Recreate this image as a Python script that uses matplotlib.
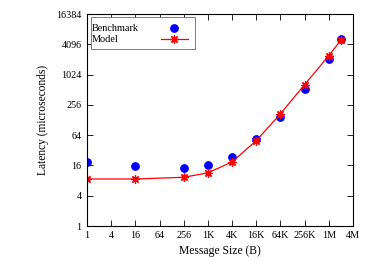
import numpy as np
import matplotlib
matplotlib.use("Agg")
import matplotlib.pyplot as plt
from matplotlib.patches import Rectangle

# message sizes in bytes
sizes = [1, 16, 256, 1024, 4096, 16384, 65536, 262144, 1048576, 2097152]
benchmark = [18.3, 15.6, 14.3, 16.1, 23.3, 52.8, 149, 523, 2120, 5210]
model = [8.6, 8.6, 9.3, 11.4, 18.8, 49.8, 170, 648, 2430, 4980]

xticks = [1, 4, 16, 64, 256, 1024, 4096, 16384, 65536, 262144, 1048576, 4194304]
xlabels = ["1", "4", "16", "64", "256", "1K", "4K", "16K", "64K", "256K", "1M", "4M"]
yticks = [1, 4, 16, 64, 256, 1024, 4096, 16384]

plt.rcParams['font.family'] = ['Liberation Serif', 'DejaVu Serif']
plt.rcParams['font.size'] = 7.3

W, H = 374, 262
L, R, T, B = 87, 353, 14, 226
fig = plt.figure(figsize=(W / 100, H / 100), dpi=100)
ax = fig.add_axes([L / W, 1 - B / H, (R - L) / W, (B - T) / H])

ax.plot(sizes, benchmark, 'o', color='#0000ff', markersize=5.3, label='Benchmark')
ax.plot(sizes, model, '-', color='#ff0000', linewidth=0.9,
        marker=(8, 2, 0), markersize=6, markeredgewidth=0.9, label='Model')

ax.set_xscale('log', base=2)
ax.set_yscale('log', base=2)
ax.set_xlim(1, 4194304)
ax.set_ylim(1, 16384)
ax.set_xticks(xticks)
ax.set_xticklabels(xlabels)
ax.set_yticks(yticks)
ax.set_yticklabels([str(v) for v in yticks])
ax.minorticks_off()
ax.tick_params(direction='in', top=True, right=True, length=4, width=0.6)
ax.tick_params(axis='x', pad=3.5)
ax.tick_params(axis='y', pad=4)
for s in ax.spines.values():
    s.set_linewidth(0.8)

ax.set_xlabel('Message Size (B)', fontsize=8.4, labelpad=4)
ax.set_ylabel('Latency (microseconds)', fontsize=8.3, labelpad=5)

# gnuplot-style key: text on the left, samples on the right
def px(x, y):
    return (x - L) / (R - L), (B - y) / (B - T)

x0, y1 = px(91, 16.7)
x1, y0 = px(195, 49)
ax.add_patch(Rectangle((x0, y0), x1 - x0, y1 - y0, transform=ax.transAxes,
                       facecolor='white', edgecolor='#666666', linewidth=0.6,
                       zorder=5, clip_on=False))
tx, ty = px(92, 31)
ax.text(tx, ty, 'Benchmark', transform=ax.transAxes, fontsize=7.4,
        va='baseline', ha='left', zorder=6)
tx, ty = px(92, 41.5)
ax.text(tx, ty, 'Model', transform=ax.transAxes, fontsize=7.4,
        va='baseline', ha='left', zorder=6)
mx, my = px(174, 28.3)
ax.plot([mx], [my], 'o', color='#0000ff', markersize=5.3, transform=ax.transAxes,
        zorder=6, clip_on=False)
lx0, ly = px(161, 38.7)
lx1, _ = px(188, 38.7)
ax.plot([lx0, lx1], [ly, ly], '-', color='#ff0000', linewidth=0.9,
        transform=ax.transAxes, zorder=6, clip_on=False)
ax.plot([mx], [ly], color='#ff0000', marker=(8, 2, 0), markersize=6,
        markeredgewidth=0.9, transform=ax.transAxes, zorder=6, clip_on=False)

fig.savefig('out.png', dpi=100)
